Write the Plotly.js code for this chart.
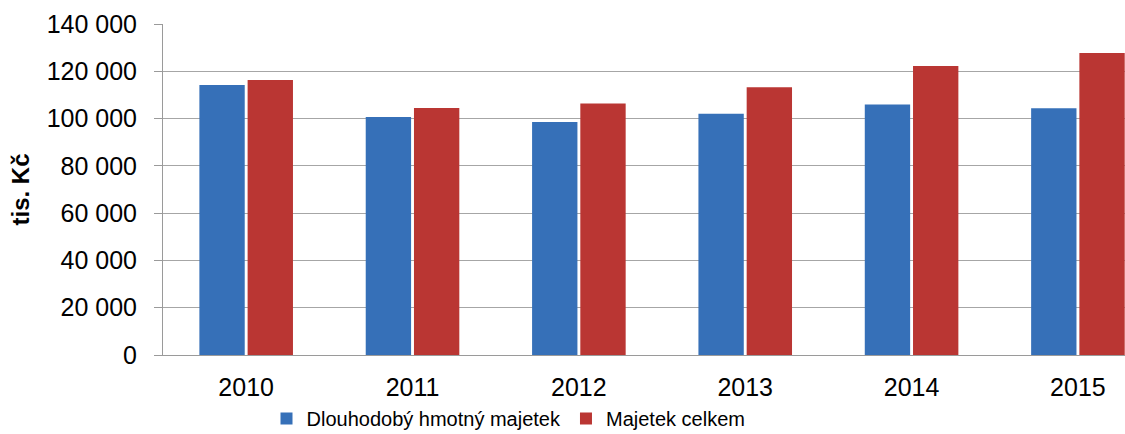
<!DOCTYPE html>
<html>
<head>
<meta charset="utf-8">
<script src="https://cdn.plot.ly/plotly-3.0.1.min.js"></script>
<style>
  html, body { margin: 0; padding: 0; background: #fff; }
  #chart { width: 1125px; height: 434px; }
</style>
</head>
<body>
<div id="chart"></div>
<script>
// years on the x axis
var years = ['2010', '2011', '2012', '2013', '2014', '2015'];

// values in tis. Kč
var dlouhodobyMajetek = [114200, 100700, 98600, 102000, 106000, 104400];
var majetekCelkem = [116300, 104500, 106400, 113200, 122200, 127700];

var seriesNames = ['Dlouhodobý hmotný majetek', 'Majetek celkem'];
var yTicks = [0, 20000, 40000, 60000, 80000, 100000, 120000, 140000];
var yTickLabels = ['0', '20 000', '40 000', '60 000', '80 000', '100 000', '120 000', '140 000'];

var font = 'Liberation Sans, Arial, sans-serif';

var data = [
    {
        x: years,
        y: dlouhodobyMajetek,
        name: seriesNames[0],
        type: 'bar',
        marker: { color: '#3670B8', line: { width: 0 } },
        hoverinfo: 'y'
    },
    {
        x: years,
        y: majetekCelkem,
        name: seriesNames[1],
        type: 'bar',
        marker: { color: '#BA3633', line: { width: 0 } },
        hoverinfo: 'y'
    }
];

var layout = {
    width: 1125,
    height: 434,
    margin: { l: 163, r: 0, t: 24, b: 79 },
    paper_bgcolor: '#fff',
    plot_bgcolor: '#fff',
    font: { family: font, color: '#000' },
    barmode: 'group',
    bargap: 0.42,
    bargroupgap: 0.06,
    showlegend: true,
    legend: {
        orientation: 'h',
        xref: 'container',
        yref: 'container',
        x: 0.452,
        xanchor: 'center',
        y: 0.036,
        yanchor: 'middle',
        font: { size: 20, family: font },
        itemwidth: 30,
        tracegroupgap: 0
    },
    xaxis: {
        type: 'category',
        range: [-0.5, 5.283],
        showgrid: false,
        showline: true,
        linecolor: '#9A9A9A',
        linewidth: 1,
        ticks: '',
        tickfont: { size: 25, family: font },
        ticklabelstandoff: 10,
        zeroline: false,
        automargin: false,
        fixedrange: true
    },
    yaxis: {
        range: [0, 140000],
        tickvals: yTicks,
        ticktext: yTickLabels,
        showgrid: true,
        gridcolor: '#A6A6A6',
        gridwidth: 1,
        showline: true,
        linecolor: '#9A9A9A',
        linewidth: 1,
        ticks: 'outside',
        ticklen: 8,
        tickcolor: '#9A9A9A',
        tickfont: { size: 25, family: font },
        ticklabelstandoff: 12,
        zeroline: false,
        automargin: false,
        title: {
            text: 'tis. Kč',
            font: { size: 24, family: font, weight: 'bold' },
            standoff: 10
        },
        fixedrange: true
    }
};

Plotly.newPlot('chart', data, layout, { displayModeBar: false, staticPlot: true });
</script>
</body>
</html>
